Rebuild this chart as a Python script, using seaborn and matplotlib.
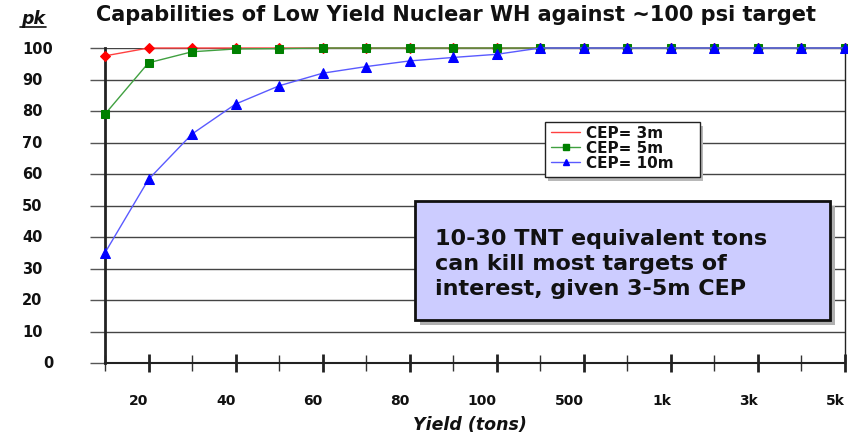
import pandas as pd
import numpy as np
import matplotlib.pyplot as plt
import matplotlib.transforms as mtransforms
import seaborn as sns
from matplotlib.patches import FancyBboxPatch

# data
yield_labels = ["10", "20", "30", "40", "50", "60", "70", "80", "90", "100",
                "200", "500", "700", "1k", "2k", "3k", "4k", "5k"]
pk_cep3 = [97.5, 100, 100, 100, 100, 100, 100, 100, 100, 100,
           100, 100, 100, 100, 100, 100, 100, 100]
pk_cep5 = [79, 95.3, 98.8, 99.7, 99.8, 100, 100, 100, 100, 100,
           100, 100, 100, 100, 100, 100, 100, 100]
pk_cep10 = [35, 58.3, 72.7, 82.2, 88, 92, 94.1, 95.9, 97, 98,
            100, 100, 100, 100, 100, 100, 100, 100]
series_names = ["CEP= 3m", "CEP= 5m", "CEP= 10m"]
y_ticks = list(range(0, 101, 10))

df = pd.DataFrame({
    "pos": np.arange(len(yield_labels)),
    series_names[0]: pk_cep3,
    series_names[1]: pk_cep5,
    series_names[2]: pk_cep10,
})
df_long = df.melt(id_vars="pos", var_name="Series", value_name="pk")

sns.set_theme(style="white")
plt.rcParams["font.family"] = ["DejaVu Sans"]

W, H = 848, 439
fig = plt.figure(figsize=(W / 100, H / 100), dpi=100)
ax = fig.add_axes([105 / W, 1 - 364 / H, 740 / W, 315 / H])

styles = {
    "CEP= 3m": dict(line="#ff4040", mk="#ff0000", marker="D", ms=5.5),
    "CEP= 5m": dict(line="#40a040", mk="#008000", marker="s", ms=5.5),
    "CEP= 10m": dict(line="#5a5aff", mk="#0000ff", marker="^", ms=7),
}
for name in series_names:
    st = styles[name]
    sns.lineplot(data=df_long[df_long["Series"] == name], x="pos", y="pk",
                 ax=ax, color=st["line"], linewidth=1.0, marker=st["marker"],
                 markersize=st["ms"], markerfacecolor=st["mk"],
                 markeredgecolor=st["mk"], clip_on=False, zorder=3)

ax.set_xlim(0, len(yield_labels) - 1)
ax.set_ylim(0, 100)

# horizontal grid, y labels drawn by hand so they can sit left-aligned
ax.set_yticks(y_ticks)
ax.set_yticklabels([])
ax.yaxis.grid(True, color="#444444", linewidth=1)
ax.tick_params(axis="y", left=True, length=11, width=1, color="#555555",
               direction="out")
ytrans = mtransforms.blended_transform_factory(fig.transFigure, ax.transData)
for v in y_ticks:
    xpos = 43 / W if v == 0 else 22 / W
    ax.text(xpos, v, str(v), transform=ytrans, ha="left", va="center",
            fontsize=10.5, fontweight="bold", color="#111111")

# x ticks: labelled every second position, labels end at the tick
ax.set_xticks(np.arange(1, len(yield_labels), 2))
ax.set_xticklabels(yield_labels[1::2], fontweight="bold", fontsize=10,
                   ha="right", color="#111111")
offset = mtransforms.ScaledTranslation(4 / 100, 0, fig.dpi_scale_trans)
for lbl in ax.get_xticklabels():
    lbl.set_transform(lbl.get_transform() + offset)
ax.set_xticks(np.arange(0, len(yield_labels), 2), minor=True)
ax.tick_params(axis="x", which="major", bottom=True, direction="inout",
               length=13, width=2, color="#222222", pad=15)
ax.tick_params(axis="x", which="minor", bottom=True, direction="inout",
               length=12, width=1, color="#333333")

for side in ["left", "bottom", "right", "top"]:
    ax.spines[side].set_color("#222222")
ax.spines["left"].set_linewidth(2)
ax.spines["bottom"].set_linewidth(1.5)
ax.spines["right"].set_linewidth(1)
ax.spines["top"].set_visible(False)
ax.set_xlabel("")
ax.set_ylabel("")

fig.text(470 / W, 1 - 425 / H, "Yield (tons)", ha="center", va="center",
         fontsize=12.5, fontweight="bold", style="italic", color="#111111")
fig.text(456 / W, 1 - 15 / H,
         "Capabilities of Low Yield Nuclear WH against ~100 psi target",
         ha="center", va="center", fontsize=15, fontweight="bold", color="#111111")
fig.text(33 / W, 1 - 19 / H, "pk", ha="center", va="center", fontsize=12.5,
         fontweight="bold", style="italic", color="#111111")
fig.add_artist(plt.Line2D([20 / W, 46 / W], [1 - 28 / H, 1 - 28 / H],
                          color="#111111", lw=1.2))

# legend (frame drawn separately to match the wide box)
leg_x0, leg_y0, leg_w, leg_h = 545 / W, 1 - 178 / H, 155 / W, 55 / H
fig.add_artist(FancyBboxPatch((leg_x0 + 0.004, leg_y0 - 0.008), leg_w, leg_h,
                              boxstyle="square,pad=0", transform=fig.transFigure,
                              facecolor="#b8b8b8", edgecolor="none", zorder=4))
fig.add_artist(FancyBboxPatch((leg_x0, leg_y0), leg_w, leg_h,
                              boxstyle="square,pad=0", transform=fig.transFigure,
                              facecolor="white", edgecolor="#222222",
                              linewidth=1, zorder=4.5))
handles = [
    plt.Line2D([], [], color=styles["CEP= 3m"]["line"], lw=1),
    plt.Line2D([], [], color=styles["CEP= 5m"]["line"], lw=1, marker="s", ms=4,
               markerfacecolor="#008000", markeredgecolor="#008000"),
    plt.Line2D([], [], color=styles["CEP= 10m"]["line"], lw=1, marker="^", ms=4.5,
               markerfacecolor="#0000ff", markeredgecolor="#0000ff"),
]
leg = fig.legend(handles, series_names, loc="upper left",
                 bbox_to_anchor=(551 / W, 1 - 126 / H),
                 fontsize=11, frameon=False, handlelength=1.9, borderpad=0,
                 labelspacing=0.0, handletextpad=0.4, borderaxespad=0)
leg.set_zorder(5)
for t in leg.get_texts():
    t.set_fontweight("bold")
    t.set_color("#111111")

# annotation box
box_x0, box_y0 = 415 / W, 1 - 321 / H
box_w, box_h = 415 / W, 119 / H
fig.add_artist(FancyBboxPatch((box_x0 + 0.006, box_y0 - 0.012), box_w, box_h,
                              boxstyle="square,pad=0", transform=fig.transFigure,
                              facecolor="#b0b0b0", edgecolor="none", zorder=4))
fig.add_artist(FancyBboxPatch((box_x0, box_y0), box_w, box_h,
                              boxstyle="square,pad=0", transform=fig.transFigure,
                              facecolor="#ccccff", edgecolor="#111111",
                              linewidth=2, zorder=5))
fig.text(435 / W, 1 - 264 / H,
         "10-30 TNT equivalent tons\ncan kill most targets of\ninterest, given 3-5m CEP",
         ha="left", va="center", fontsize=16, fontweight="bold",
         color="#111111", linespacing=1.3, zorder=6)

fig.savefig("out.png", dpi=100)
